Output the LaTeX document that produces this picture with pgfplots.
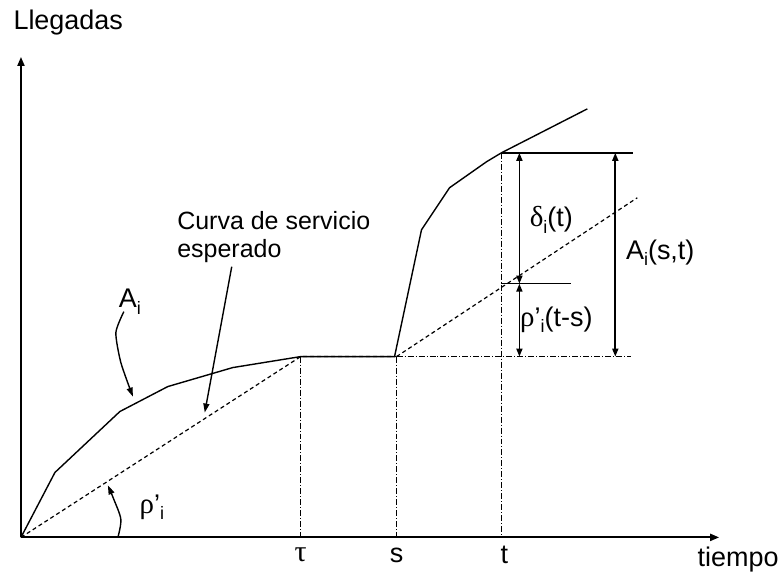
\documentclass[border=0pt]{standalone}
\usepackage{fontspec}
\setmainfont{Liberation Sans}
\newfontfamily\grk{Liberation Serif}
\usepackage{pgfplots}
\pgfplotsset{compat=1.18}
\usetikzlibrary{arrows.meta}
\newcommand{\sub}[1]{\raisebox{-0.45ex}{\fontsize{18}{18}\selectfont #1}}
\begin{document}
\begin{tikzpicture}
\begin{axis}[
  width=782pt, height=576pt, scale only axis,
  xmin=0, xmax=782, ymin=0, ymax=576, y dir=reverse,
  hide axis, clip=false,
]
% frame for the page size
\addplot[draw=none] coordinates {(0,0) (782,576)};
% axes
\addplot[line width=1.9pt, -{Triangle[length=9pt,width=7pt]}] coordinates {(21,538) (21,57)};
\addplot[line width=1.9pt, -{Triangle[length=9pt,width=7pt]}] coordinates {(21,538) (720,538)};
% arrival curve A_i
\addplot[line width=1.4pt, line join=round] coordinates {
 (21,538) (55,473) (120,412) (168,387) (233,368) (301,357)
 (395,357) (422,230) (450,188) (487,162) (502,153) (588,109)};
% expected service curve
\addplot[line width=1.2pt, dash pattern=on 4pt off 3pt] coordinates {(21,538) (301,357) (397,357)};
\addplot[line width=1.2pt, dash pattern=on 4pt off 3pt] coordinates {(397,357) (638,198)};
% dash-dot guides
\addplot[line width=1.1pt, dash pattern=on 6pt off 2pt on 1pt off 2pt] coordinates {(397,357) (632,357)};
\addplot[line width=1.1pt, dash pattern=on 6pt off 2pt on 1pt off 2pt] coordinates {(301,357) (301,538)};
\addplot[line width=1.1pt, dash pattern=on 6pt off 2pt on 1pt off 2pt] coordinates {(397,357) (397,538)};
\addplot[line width=1.1pt, dash pattern=on 6pt off 2pt on 1pt off 2pt] coordinates {(502,153) (502,538)};
% solid horizontal markers
\addplot[line width=1.4pt] coordinates {(502,153) (634,153)};
\addplot[line width=1.4pt] coordinates {(502,284) (572,284)};
% double arrows
\addplot[line width=1.7pt, {Triangle[length=8pt,width=6pt]}-{Triangle[length=8pt,width=6pt]}] coordinates {(520,153) (520,284)};
\addplot[line width=1.7pt, {Triangle[length=8pt,width=6pt]}-{Triangle[length=8pt,width=6pt]}] coordinates {(520,284) (520,357)};
\addplot[line width=1.7pt, {Triangle[length=8pt,width=6pt]}-{Triangle[length=8pt,width=6pt]}] coordinates {(616,153) (616,357)};
% pointer arrows
\addplot[line width=1.4pt, -{Triangle[length=9pt,width=6pt]}] coordinates {(232,267) (205,413)};
\addplot[line width=1.4pt, smooth, tension=0.4, -{Triangle[length=9pt,width=6pt]}] coordinates {(124,312) (116,333) (121,363) (133,397)};
\addplot[line width=1.4pt, smooth, tension=0.5, -{Triangle[length=9pt,width=6pt]}] coordinates {(118,538) (121,520) (114,500) (108,486)};
% labels
\node[anchor=west, font=\fontsize{27}{27}\selectfont] at (axis cs:10,23) {Llegadas};
\node[anchor=west, font=\fontsize{27}{27}\selectfont] at (axis cs:695,560) {tiempo};
\node[font=\fontsize{30}{30}\selectfont\grk] at (axis cs:301,555) {τ};
\node[font=\fontsize{27}{27}\selectfont] at (axis cs:397,556) {s};
\node[font=\fontsize{27}{27}\selectfont] at (axis cs:505,556) {t};
\node[anchor=north west, align=left, font=\fontsize{25}{28}\selectfont] at (axis cs:174,208) {Curva de servicio\\esperado};
\node[font=\fontsize{27}{27}\selectfont] at (axis cs:130,302) {A\sub{i}};
\node[font=\fontsize{27}{27}\selectfont] at (axis cs:152,508) {{\grk\fontsize{29}{29}\selectfont ρ}’\sub{i}};
\node[font=\fontsize{27}{27}\selectfont] at (axis cs:552,220) {{\grk\fontsize{29}{29}\selectfont δ}\sub{i}(t)};
\node[font=\fontsize{27}{27}\selectfont] at (axis cs:557,320) {{\grk\fontsize{29}{29}\selectfont ρ}’\sub{i}(t-s)};
\node[font=\fontsize{27}{27}\selectfont] at (axis cs:661,253) {A\sub{i}(s,t)};
\end{axis}
\end{tikzpicture}
\end{document}
